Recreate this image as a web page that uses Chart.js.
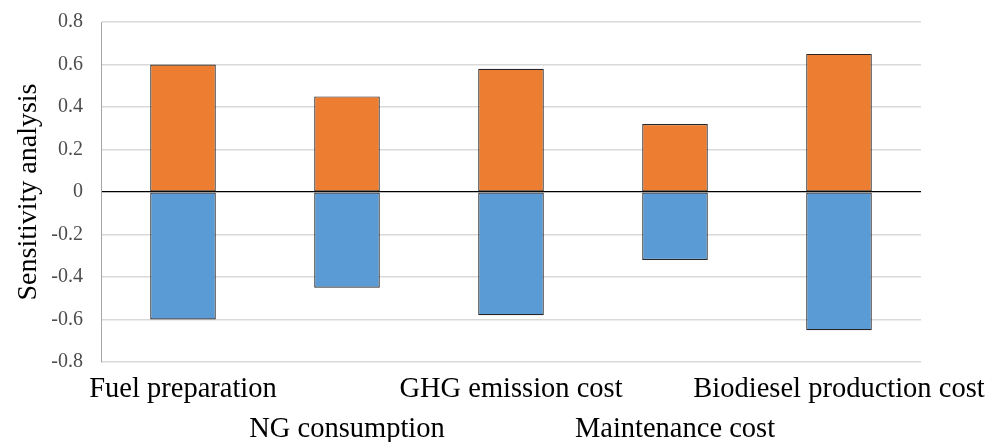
<!DOCTYPE html>
<html>
<head>
<meta charset="utf-8">
<script src="https://cdn.jsdelivr.net/npm/chart.js@4"></script>
<style>
  html, body { margin: 0; padding: 0; background: #ffffff; }
  #wrap { width: 990px; height: 442px; }
</style>
</head>
<body>
<div id="wrap"><canvas id="chart" width="990" height="442"></canvas></div>
<script>
// Sensitivity of each parameter: upper (+) and lower (-) response
const categories = [
  'Fuel preparation',
  'NG consumption',
  'GHG emission cost',
  'Maintenance cost',
  'Biodiesel production cost'
];
const positiveValues = [0.60, 0.45, 0.58, 0.32, 0.65];
const negativeValues = [-0.60, -0.45, -0.58, -0.32, -0.65];
const yTickValues = [-0.8, -0.6, -0.4, -0.2, 0, 0.2, 0.4, 0.6, 0.8];
const yTickLabels = ['-0.8', '-0.6', '-0.4', '-0.2', '0', '0.2', '0.4', '0.6', '0.8'];

// Category names alternate between two rows so the long names do not collide
const xLabels = categories.map((name, i) => (i % 2 === 0 ? [name, ''] : ['', name]));

const serif = '"Liberation Serif", "Times New Roman", serif';

new Chart(document.getElementById('chart'), {
  type: 'bar',
  data: {
    labels: xLabels,
    datasets: [
      {
        label: 'Upper',
        data: positiveValues,
        backgroundColor: '#ED7D31',
        borderColor: '#262626',
        borderWidth: 1.2,
        borderSkipped: false
      },
      {
        label: 'Lower',
        data: negativeValues,
        backgroundColor: '#5B9BD5',
        borderColor: '#262626',
        borderWidth: 1.2,
        borderSkipped: false
      }
    ]
  },
  options: {
    responsive: false,
    animation: false,
    devicePixelRatio: 1,
    barPercentage: 0.4,
    categoryPercentage: 1.0,
    layout: { padding: { top: 22, right: 69, bottom: 0, left: 0 } },
    plugins: {
      legend: { display: false },
      tooltip: { enabled: false }
    },
    scales: {
      x: {
        stacked: true,
        grid: { display: false, drawTicks: false },
        border: { display: false },
        ticks: {
          autoSkip: false,
          maxRotation: 0,
          minRotation: 0,
          padding: 7,
          color: '#000000',
          font: { family: serif, size: 28.5, lineHeight: 1.41 }
        },
        // fixed axis band; long labels may spill into the side margins
        afterFit: (scale) => {
          scale.height = 80;
          scale.paddingLeft = 0;
          scale.paddingRight = 0;
        }
      },
      y: {
        stacked: true,
        min: -0.8,
        max: 0.8,
        afterBuildTicks: (scale) => {
          scale.ticks = yTickValues.map((v) => ({ value: v }));
        },
        grid: {
          drawTicks: false,
          lineWidth: (ctx) => (ctx.tick && ctx.tick.value === 0 ? 1.2 : 1.5),
          color: (ctx) => (ctx.tick && ctx.tick.value === 0 ? '#000000' : '#d9d9d9')
        },
        border: { display: true, color: '#a6a6a6', width: 1 },
        ticks: {
          padding: 18,
          color: '#4d4d4d',
          font: { family: serif, size: 20 },
          callback: (value, index) => yTickLabels[index]
        },
        title: {
          display: true,
          text: 'Sensitivity analysis',
          color: '#000000',
          font: { family: serif, size: 28 },
          padding: { top: 12, bottom: 0 }
        },
        afterFit: (scale) => {
          scale.width = 101;
          scale.paddingTop = 0;
          scale.paddingBottom = 0;
        }
      }
    }
  }
});
</script>
</body>
</html>
